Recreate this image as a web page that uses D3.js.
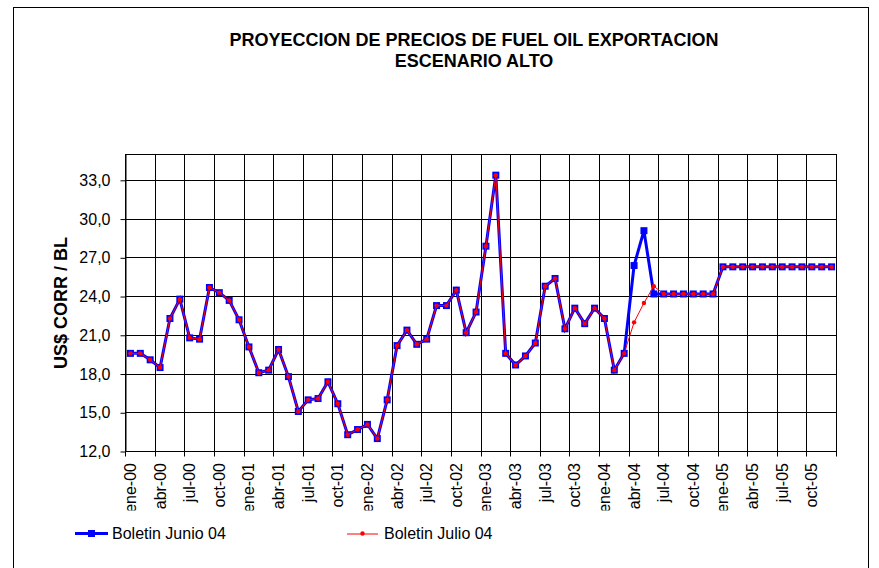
<!DOCTYPE html>
<html><head><meta charset="utf-8">
<script src="https://cdn.jsdelivr.net/npm/d3@7"></script>
<style>body{margin:0;background:#fff}svg{display:block;font-family:"Liberation Sans",Arial,sans-serif}</style>
</head><body><svg id="c" width="879" height="568"></svg>
<script>
const months = ["ene","feb","mar","abr","may","jun","jul","ago","sep","oct","nov","dic"];
const years = ["00","01","02","03","04","05"];
const categories = years.flatMap(yy => months.map(m => m + "-" + yy));
const tickLabels = categories.filter((d, i) => i % 3 === 0);
const yTicks = [12, 15, 18, 21, 24, 27, 30, 33];
const boletinJunio = [
  19.6,19.6,19.1,18.5,22.3,23.8,20.8,20.7,24.7,24.3,23.7,22.2,
  20.1,18.1,18.3,19.9,17.8,15.1,16.0,16.1,17.4,15.7,13.3,13.7,
  14.1,13.0,16.0,20.2,21.4,20.3,20.7,23.3,23.3,24.5,21.2,22.8,
  27.9,33.4,19.6,18.7,19.4,20.4,24.8,25.4,21.5,23.1,21.9,23.1,
  22.3,18.3,19.6,26.4,29.1,24.2,24.2,24.2,24.2,24.2,24.2,24.2,
  26.3,26.3,26.3,26.3,26.3,26.3,26.3,26.3,26.3,26.3,26.3,26.3];
const boletinJulio = [
  19.6,19.6,19.1,18.5,22.3,23.8,20.8,20.7,24.7,24.3,23.7,22.2,
  20.1,18.1,18.3,19.9,17.8,15.1,16.0,16.1,17.4,15.7,13.3,13.7,
  14.1,13.0,16.0,20.2,21.4,20.3,20.7,23.3,23.3,24.5,21.2,22.8,
  27.9,33.4,19.6,18.7,19.4,20.4,24.8,25.4,21.5,23.1,21.9,23.1,
  22.3,18.3,19.6,22.0,23.5,24.8,24.2,24.2,24.2,24.2,24.2,24.2,
  26.3,26.3,26.3,26.3,26.3,26.3,26.3,26.3,26.3,26.3,26.3,26.3];
const seriesNames = ["Boletin Junio 04", "Boletin Julio 04"];

const svg = d3.select("#c");
const L = 125.5, R = 836.5, T = 154.5, B = 451.5;
const snap = v => Math.round(v - 0.5) + 0.5;

// outer chart border
svg.append("rect").attr("x", 13.5).attr("y", 7.5).attr("width", 855).attr("height", 620)
  .attr("fill", "none").attr("stroke", "#000").attr("stroke-width", 1);

const x = d3.scaleBand().domain(categories).range([L, R]);
const y = d3.scaleLinear().domain([12, 35]).range([B, T]);
const cx = d => x(d) + x.bandwidth() / 2;

// gridlines
const g = svg.append("g");
g.selectAll(".hg").data(yTicks.slice(1)).join("line")
  .attr("x1", L).attr("x2", R).attr("y1", d => snap(y(d))).attr("y2", d => snap(y(d)))
  .attr("stroke", "#000").attr("stroke-width", 1);
g.selectAll(".vg").data(categories.filter((d, i) => i % 3 === 0 && i > 0)).join("line")
  .attr("x1", d => snap(x(d))).attr("x2", d => snap(x(d))).attr("y1", T).attr("y2", B)
  .attr("stroke", "#000").attr("stroke-width", 1);
svg.append("rect").attr("x", L).attr("y", T).attr("width", R - L).attr("height", B - T)
  .attr("fill", "none").attr("stroke", "#000").attr("stroke-width", 1);

// y axis
const yAxis = d3.axisLeft(y).tickValues(yTicks)
  .tickFormat(d => d3.format(".1f")(d).replace(".", ","))
  .tickSize(5).tickSizeOuter(0).tickPadding(10);
const ya = svg.append("g").attr("transform", `translate(${L},0)`).call(yAxis);
ya.selectAll("text").attr("font-size", 16).attr("fill", "#000").attr("font-family", "Liberation Sans, Arial, sans-serif");
ya.selectAll("line").attr("stroke", "#000");
ya.select(".domain").attr("stroke", "#000");

// x axis ticks at boundaries
const bounds = categories.filter((d, i) => i % 3 === 0).map(d => x(d)).concat([x.range()[1]]);
svg.append("g").selectAll("line").data(bounds).join("line")
  .attr("x1", d => snap(d)).attr("x2", d => snap(d)).attr("y1", B).attr("y2", B + 5)
  .attr("stroke", "#000");

// x labels
svg.append("clipPath").attr("id", "xclip").append("rect")
  .attr("x", 0).attr("y", 455).attr("width", 879).attr("height", 55.5);
svg.append("g").attr("clip-path", "url(#xclip)").selectAll("text").data(tickLabels).join("text")
  .attr("transform", d => `translate(${cx(d) + 5.5},463) rotate(-90)`)
  .attr("text-anchor", "end").attr("font-size", 16).attr("fill", "#000")
  .text(d => d);

// title
svg.append("text").attr("x", 474).attr("y", 46).attr("text-anchor", "middle")
  .attr("font-size", 18).attr("font-weight", "bold").text("PROYECCION DE PRECIOS DE FUEL OIL EXPORTACION");
svg.append("text").attr("x", 474).attr("y", 67).attr("text-anchor", "middle")
  .attr("font-size", 18).attr("font-weight", "bold").text("ESCENARIO ALTO");

// y title
svg.append("text").attr("transform", `translate(61,${(T + B) / 2}) rotate(-90)`)
  .attr("text-anchor", "middle").attr("dy", "0.35em")
  .attr("font-size", 18).attr("font-weight", "bold").text("US$ CORR / BL");

// series
const line = d3.line().x((d, i) => cx(categories[i])).y(d => y(d));
svg.append("path").datum(boletinJunio).attr("d", line)
  .attr("fill", "none").attr("stroke", "#0000ff").attr("stroke-width", 3).attr("stroke-linejoin", "miter");
svg.append("g").selectAll("rect").data(boletinJunio).join("rect")
  .attr("x", (d, i) => cx(categories[i]) - 3.5).attr("y", d => y(d) - 3.5)
  .attr("width", 7).attr("height", 7).attr("fill", "#0000ff");
svg.append("path").datum(boletinJulio).attr("d", line)
  .attr("fill", "none").attr("stroke", "#ff0000").attr("stroke-width", 1);
svg.append("g").selectAll("circle").data(boletinJulio).join("circle")
  .attr("cx", (d, i) => cx(categories[i])).attr("cy", d => y(d)).attr("r", 2.2).attr("fill", "#ff0000");

// legend
const lg = svg.append("g");
lg.append("line").attr("x1", 75).attr("x2", 108).attr("y1", 533.5).attr("y2", 533.5)
  .attr("stroke", "#0000ff").attr("stroke-width", 3);
lg.append("rect").attr("x", 88).attr("y", 530).attr("width", 7).attr("height", 7).attr("fill", "#0000ff");
lg.append("text").attr("x", 112).attr("y", 539).attr("font-size", 16).text(seriesNames[0]);
lg.append("line").attr("x1", 347).attr("x2", 378).attr("y1", 534).attr("y2", 534)
  .attr("stroke", "#ff0000").attr("stroke-width", 1);
lg.append("circle").attr("cx", 362.5).attr("cy", 533.5).attr("r", 2.2).attr("fill", "#ff0000");
lg.append("text").attr("x", 384).attr("y", 539).attr("font-size", 16).text(seriesNames[1]);
</script></body></html>
